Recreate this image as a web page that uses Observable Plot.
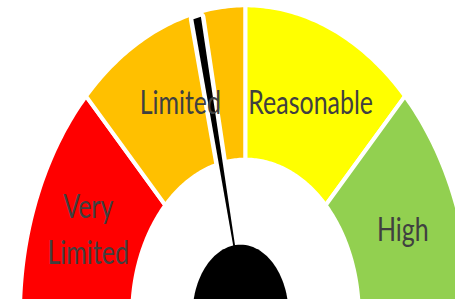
<!DOCTYPE html>
<html>
<head>
<meta charset="utf-8">
<script src="https://cdn.jsdelivr.net/npm/d3@7"></script>
<script src="https://cdn.jsdelivr.net/npm/@observablehq/plot@0.6"></script>
<style>
  html, body { margin: 0; padding: 0; background: #fff; }
  #chart { width: 455px; height: 299px; overflow: hidden; }
</style>
</head>
<body>
<div id="chart"></div>
<script>
// ---- data ----
const categories = ["Very Limited", "Limited", "Reasonable", "High"];
const labels = ["Very\nLimited", "Limited", "Reasonable", "High"];
const bandEnds = [25, 50, 75, 100];           // gauge scale 0..100
const bandColors = ["#FF0000", "#FFC000", "#FFFF00", "#92D050"];
const needleValue = 43;

// ---- geometry (layout) ----
const R_OUT = 1.007, R_IN = 0.506, LABEL_R = 0.76;
const HUB_RU = 0.215, HUB_RV = 0.23, HUB_DU = -0.022;
const NEEDLE_HALF = 1.0 * Math.PI / 180;
const ang = v => Math.PI * (1 - v / 100);

const segRows = [];
categories.forEach((cat, i) => {
  const a0 = ang(i === 0 ? 0 : bandEnds[i - 1]);
  const a1 = ang(bandEnds[i]);
  const N = 60;
  for (let k = 0; k <= N; k++) {
    const a = a0 + (a1 - a0) * k / N;
    segRows.push({cat, color: bandColors[i], u: R_OUT * Math.cos(a), v: R_OUT * Math.sin(a)});
  }
  for (let k = N; k >= 0; k--) {
    const a = a0 + (a1 - a0) * k / N;
    segRows.push({cat, color: bandColors[i], u: R_IN * Math.cos(a), v: R_IN * Math.sin(a)});
  }
});

const na = ang(needleValue);
const needleRows = [
  {u: 0, v: 0},
  {u: 0.99 * Math.cos(na - NEEDLE_HALF), v: 0.99 * Math.sin(na - NEEDLE_HALF)},
  {u: 0.99 * Math.cos(na + NEEDLE_HALF), v: 0.99 * Math.sin(na + NEEDLE_HALF)}
];

const hubRows = d3.range(0, 121).map(k => {
  const a = 2 * Math.PI * k / 120;
  return {u: HUB_DU + HUB_RU * Math.cos(a), v: HUB_RV * Math.sin(a)};
});

const labelRows = categories.map((cat, i) => {
  const a = ang(((i === 0 ? 0 : bandEnds[i - 1]) + bandEnds[i]) / 2);
  return {label: labels[i], u: LABEL_R * Math.cos(a), v: LABEL_R * Math.sin(a)};
});

const svg = Plot.plot({
  width: 455,
  height: 299,
  margin: 0,
  x: {domain: [-245 / 224, 210 / 224], axis: null},
  y: {domain: [16 / 308, 315 / 308], axis: null},
  color: {type: "identity"},
  style: {background: "white"},
  marks: [
    Plot.line(segRows, {x: "u", y: "v", z: "cat", fill: "color", stroke: "white", strokeWidth: 4, curve: "linear-closed"}),
    Plot.line(needleRows, {x: "u", y: "v", fill: "black", stroke: "white", strokeWidth: 9, strokeLinejoin: "round", paintOrder: "stroke", curve: "linear-closed"}),
    Plot.text(labelRows, {x: "u", y: "v", text: "label", fill: "#404040", fontSize: 32, fontFamily: "Lato", lineHeight: 1.45}),
    Plot.line(hubRows, {x: "u", y: "v", fill: "black", stroke: "none", curve: "linear-closed"})
  ]
});

// narrow the label glyphs horizontally (the reference is horizontally compressed)
svg.querySelectorAll("text").forEach(t => {
  const tr = t.getAttribute("transform");
  if (tr && tr.includes("translate")) {
    t.setAttribute("transform", tr + " scale(0.78,1)");
  } else if (t.hasAttribute("x")) {
    const x = t.getAttribute("x"), y = t.getAttribute("y") || 0;
    t.removeAttribute("x"); t.removeAttribute("y");
    t.setAttribute("transform", `translate(${x},${y}) scale(0.78,1)`);
  }
});

document.getElementById("chart").appendChild(svg);
</script>
</body>
</html>
